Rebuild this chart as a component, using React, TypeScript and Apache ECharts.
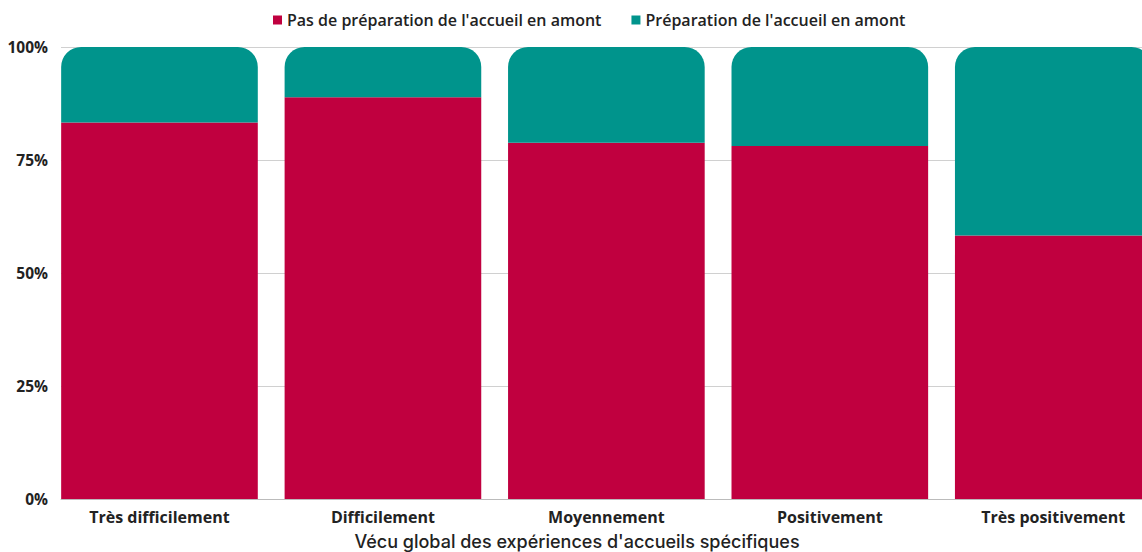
import React, { useEffect, useRef } from "react";
import * as echarts from "echarts";

const categories = ["Très difficilement", "Difficilement", "Moyennement", "Positivement", "Très positivement"];
const sansPreparation = [83.3, 88.9, 78.8, 78.1, 58.3];
const avecPreparation = [16.7, 11.1, 21.2, 21.9, 41.7];
const seriesNames = ["Pas de préparation de l'accueil en amont", "Préparation de l'accueil en amont"];
const yTicks = [0, 25, 50, 75, 100];
const axisTitle = "Vécu global des expériences d'accueils spécifiques";

const RED = "#C0003F";
const TEAL = "#00948C";

export default function App() {
  const ref = useRef<HTMLDivElement>(null);
  useEffect(() => {
    if (!ref.current) return;
    const chart = echarts.init(ref.current, null, { renderer: "svg" });
    chart.setOption({
      animation: false,
      legend: {
        top: 7,
        left: 268,
        icon: "rect",
        itemWidth: 9,
        itemHeight: 9,
        itemGap: 30,
        textStyle: { fontFamily: "Open Sans", fontWeight: 600, fontSize: 16, color: "#222" },
        data: seriesNames,
      },
      grid: [
        { left: 47.75, right: 0, top: 47, bottom: 53 },
        { left: 61, right: 0, top: 47, bottom: 53 },
      ],
      xAxis: [
        {
          type: "category",
          gridIndex: 0,
          data: categories,
          axisLine: { show: false },
          axisTick: { show: false },
          axisLabel: { margin: 10, fontFamily: "Open Sans", fontWeight: 700, fontSize: 16, color: "#222" },
        },
        {
          type: "value",
          gridIndex: 1,
          min: 0,
          max: 1,
          axisLine: { show: true, lineStyle: { color: "#bbb", width: 1 } },
          axisTick: { show: false },
          axisLabel: { show: false },
          splitLine: { show: false },
        },
      ],
      yAxis: [
        { type: "value", gridIndex: 0, min: 0, max: 100, show: false },
        {
          type: "value",
          gridIndex: 1,
          min: yTicks[0],
          max: yTicks[yTicks.length - 1],
          interval: 25,
          axisLine: { show: false },
          axisTick: { show: false },
          splitLine: { lineStyle: { color: "#d0d0d0", width: 1 } },
          axisLabel: {
            margin: 13,
            formatter: "{value}%",
            fontFamily: "Open Sans",
            fontWeight: 700,
            fontSize: 15.5,
            color: "#222",
          },
        },
      ],
      series: [
        {
          name: seriesNames[0],
          type: "bar",
          stack: "total",
          xAxisIndex: 0,
          yAxisIndex: 0,
          barWidth: "88%",
          itemStyle: { color: RED },
          data: sansPreparation,
        },
        {
          name: seriesNames[1],
          type: "bar",
          stack: "total",
          xAxisIndex: 0,
          yAxisIndex: 0,
          barWidth: "88%",
          itemStyle: { color: TEAL, borderRadius: [20, 20, 0, 0] },
          data: avecPreparation,
        },
      ],
      graphic: [
        {
          type: "text",
          x: 577,
          y: 541,
          style: {
            text: axisTitle,
            align: "center",
            verticalAlign: "middle",
            fontFamily: "Inter",
            fontSize: 18,
            fontWeight: 500,
            fill: "#222",
          },
        },
      ],
    });
    return () => chart.dispose();
  }, []);
  return (
    <div style={{ position: "absolute", left: 0, top: 0, width: 1142, height: 552, overflow: "hidden" }}>
      <div ref={ref} style={{ position: "absolute", left: 0, top: 0, width: 1165.25, height: 552 }} />
    </div>
  );
}
